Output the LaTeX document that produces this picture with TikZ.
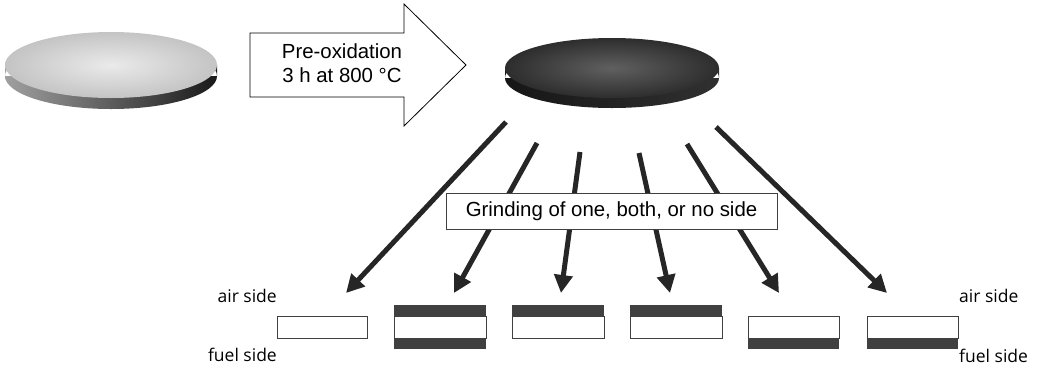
\documentclass[tikz,border=0pt]{standalone}
\usepackage{fontspec}
\setmainfont{Liberation Sans}
\newfontfamily\labelfont{Open Sans}
\usetikzlibrary{arrows.meta}
\definecolor{arrowgray}{RGB}{38,38,38}
\definecolor{bandgray}{RGB}{64,64,64}
\definecolor{lighttopin}{RGB}{234,234,234}
\definecolor{lighttopout}{RGB}{196,196,196}
\definecolor{lightsidel}{RGB}{160,160,160}
\definecolor{lightsider}{RGB}{25,25,25}
\definecolor{darktopin}{RGB}{96,96,96}
\definecolor{darktopout}{RGB}{45,45,45}
\definecolor{darksidel}{RGB}{22,22,22}
\definecolor{darksider}{RGB}{48,48,48}
\tikzset{
  bigarrow/.style={draw=black, line width=0.8pt, fill=white, line join=miter},
  gradarrow/.style={draw=arrowgray, line width=5pt, -{Triangle[length=18pt,width=18pt]}},
  sample/.style={draw=bandgray, line width=1pt, fill=white, minimum height=22pt, inner sep=0pt, outer sep=0pt},
  band/.style={fill=bandgray, minimum height=11pt, inner sep=0pt, outer sep=0pt},
  sidelabel/.style={font=\labelfont\fontsize{17.5}{20}\selectfont, inner sep=0pt},
  mainfont/.style={font=\fontsize{20.4}{24.5}\selectfont},
}
\begin{document}
\begin{tikzpicture}[x=1pt,y=-1pt]
\useasboundingbox (0,0) rectangle (1037,368);
% left disc
\shade[left color=lightsidel, right color=lightsider] (5,65) rectangle (217,76) (111,76) ellipse (106 and 33);
\shade[inner color=lighttopin, outer color=lighttopout] (111,65) ellipse (106 and 33);
% dark disc
\shade[left color=darksidel, right color=darksider] (505,68) rectangle (719,78) (612,78) ellipse (107 and 30);
\shade[inner color=darktopin, outer color=darktopout] (612,68) ellipse (107 and 30);
% process arrow
\draw[bigarrow] (250,33) -- (404,33) -- (404,4) -- (466,65) -- (404,126) -- (404,97) -- (250,97) -- cycle;
\node[mainfont, align=center, inner sep=0pt] (preox) at (342,63) {Pre-oxidation\\3 h at 800 °C};
% samples
\node[sample, minimum width=90pt] (r1) at (322,327) {};
\node[sample, minimum width=92pt] (r2) at (440,327) {};
\node[sample, minimum width=92pt] (r3) at (558,327) {};
\node[sample, minimum width=92pt] (r4) at (676,327) {};
\node[sample, minimum width=91pt] (r5) at (793.5,327) {};
\node[sample, minimum width=91pt] (r6) at (912.5,327) {};
\node[band, minimum width=92pt, anchor=south] (b2t) at (r2.north) {};
\node[band, minimum width=92pt, anchor=north] (b2b) at (r2.south) {};
\node[band, minimum width=92pt, anchor=south] (b3t) at (r3.north) {};
\node[band, minimum width=92pt, anchor=south] (b4t) at (r4.north) {};
\node[band, minimum width=91pt, anchor=north] (b5b) at (r5.south) {};
\node[band, minimum width=91pt, anchor=north] (b6b) at (r6.south) {};
% arrow ends
\coordinate (s1) at (506,122); \coordinate (e1) at (346,293);
\coordinate (s2) at (537,143); \coordinate (e2) at (454,293);
\coordinate (s3) at (580,152); \coordinate (e3) at (561,293);
\coordinate (s4) at (639,153); \coordinate (e4) at (670,293);
\coordinate (s5) at (687,144); \coordinate (e5) at (779,293);
\coordinate (s6) at (716,127); \coordinate (e6) at (887,293);
\foreach \i in {1,...,6} { \draw[gradarrow] (s\i) -- (e\i); }
% grinding box
\node[draw=bandgray, line width=1pt, fill=white, minimum width=331pt, minimum height=36pt, inner sep=0pt, mainfont] (grind) at (611.5,211) {Grinding of one, both, or no side};
% side labels
\node[sidelabel, anchor=base east] (airL) at (277,302) {air side};
\node[sidelabel, anchor=base east] (fuelL) at (277,361) {fuel side};
\node[sidelabel, anchor=base west] (airR) at (959,302) {air side};
\node[sidelabel, anchor=base west] (fuelR) at (959,362) {fuel side};
\end{tikzpicture}
\end{document}
